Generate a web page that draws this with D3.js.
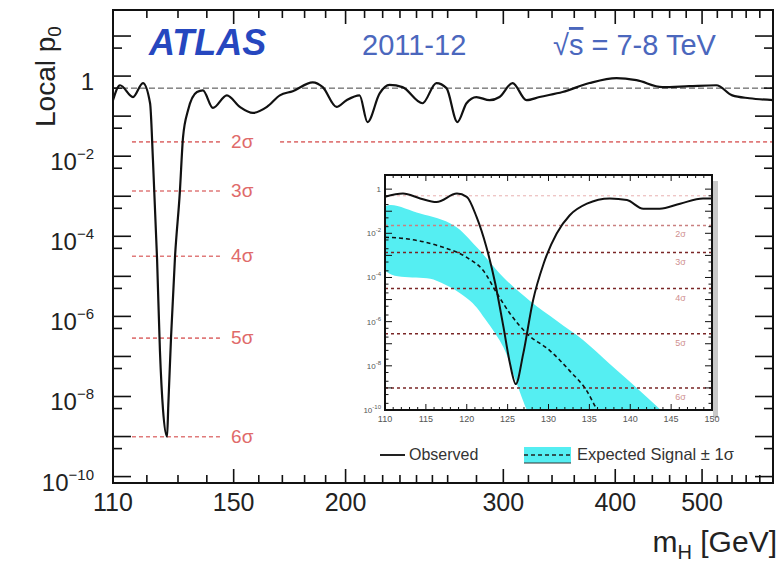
<!DOCTYPE html>
<html>
<head>
<meta charset="utf-8">
<script src="https://cdn.jsdelivr.net/npm/d3@7/dist/d3.min.js"></script>
<style>
html,body{margin:0;padding:0;background:#fff;}
svg{display:block;font-family:"Liberation Sans",Arial,Helvetica,sans-serif;}
</style>
</head>
<body>
<svg id="chart" width="781" height="565"></svg>
<script>
// ---------------- DATA ----------------
// Main plot: observed local p0 vs mH
const obsMass = [110,112,115.8,118.8,121,121.9,123.2,124.1,125.1,126.4,126.8,127.7,129.0,130.6,131.7,133.4,136.5,138.6,142.2,147.4,152.4,157.6,163.4,168.9,174.6,183.8,188.6,195.4,200.5,207.3,211.6,218.3,223.9,231.5,243.7,252.6,259.2,266.6,272.9,279.9,289.6,297.1,307.2,318.4,329.2,349.3,374.4,401.3,422.4,451.5,483.8,518.6,540.4,564.5,600];
const obsP = [0.25,0.59,0.30,0.67,0.21,7.9e-3,2.6e-5,1.4e-7,4.6e-9,1.0e-9,6e-9,3.0e-7,3.0e-5,1.2e-3,0.030,0.14,0.40,0.44,0.16,0.33,0.17,0.12,0.17,0.33,0.42,0.70,0.53,0.17,0.25,0.33,0.071,0.37,0.60,0.53,0.21,0.67,0.50,0.071,0.21,0.30,0.25,0.30,0.67,0.25,0.30,0.40,0.67,0.89,0.79,0.53,0.56,0.59,0.33,0.28,0.25];

// Sigma levels and their one-sided p-values
const sigmaLevels = [2,3,4,5,6];
const sigmaP = [0.02275,1.35e-3,3.167e-5,2.867e-7,9.866e-10];

// Axis ticks
const xTickLabels = [110,150,200,300,400,500];
const xMinorTicks = [110,120,130,140,150,160,170,180,190,200,210,220,230,240,250,260,280,300,320,340,360,380,400,420,440,460,480,500,520,540,560,580,600];
const yLabelExp = [0,-2,-4,-6,-8,-10];
const yDecades = [1,0,-1,-2,-3,-4,-5,-6,-7,-8,-9,-10];

// Inset: zoom 110-150 GeV
const inObsMass = [110,112.2,114.3,116.3,118.8,120.0,121.2,122.4,123.5,124.5,125.3,126.0,126.9,128.1,129.4,131.0,132.6,134.7,137.5,139.6,141.6,143.6,146.1,148.9,150];
const inObsP = [0.45,0.63,0.38,0.26,0.63,0.45,0.055,2.4e-3,5.1e-5,5.5e-7,1.2e-8,1.5e-9,3.4e-8,8.9e-6,4.2e-4,9.8e-3,0.066,0.22,0.38,0.32,0.13,0.13,0.22,0.38,0.38];
const expMass = [110,112.2,116.4,120.0,122.0,123.7,125.3,127.4,130.2,132.6,134.7,135.9,137];
const expP = [6.6e-3,5.9e-3,2.8e-3,8.1e-4,2.1e-4,1.9e-5,2.3e-6,2.8e-7,4.8e-8,5.9e-9,7.2e-10,1.1e-10,3e-11];
const bandHiMass = [110,114.3,118.4,121.2,124.5,127.7,131.0,134.3,137.5,140.8,143.6,145];
const bandHiP = [0.16,0.078,0.023,2.4e-3,1.0e-4,8.9e-6,1.1e-6,1.4e-7,1.2e-8,1.0e-9,1.1e-10,3e-11];
const bandLoMass = [110,116.3,120.4,122.4,124.5,125.7,127.3,128];
const bandLoP = [2.1e-4,7.2e-5,8.9e-6,1.1e-6,6.8e-8,4.2e-9,1.1e-10,3e-11];
const inXTicks = [110,115,120,125,130,135,140,145,150];
const inYLabelExp = [0,-2,-4,-6,-8,-10];

// ---------------- DRAW ----------------
const svg = d3.select("#chart");
const F = {l:113, r:773, t:10, b:483};
const x = d3.scaleLog().domain([110,600]).range([F.l,F.r]);
const y = d3.scaleLog().domain([Math.pow(10,-10.16), Math.pow(10,1.65)]).range([F.b,F.t]);

const defs = svg.append("defs");
defs.append("clipPath").attr("id","mainClip").append("rect")
  .attr("x",F.l).attr("y",F.t).attr("width",F.r-F.l).attr("height",F.b-F.t);

svg.append("rect").attr("width",781).attr("height",565).attr("fill","#fff");

const sigCol = "#e07a7a";
// sigma lines main
sigmaLevels.forEach((s,i)=>{
  const yy = y(sigmaP[i]);
  svg.append("line").attr("x1",x(115.5)).attr("x2",x(144.8)).attr("y1",yy).attr("y2",yy)
    .attr("stroke",sigCol).attr("stroke-width",1.6).attr("stroke-dasharray","4,3");
  if (s===2) {
    svg.append("line").attr("x1",x(169)).attr("x2",F.r).attr("y1",yy).attr("y2",yy)
      .attr("stroke",sigCol).attr("stroke-width",1.6).attr("stroke-dasharray","4,3");
  }
  const t = svg.append("text").attr("x",x(149)).attr("y",yy+6).attr("font-size",19)
    .attr("fill","#e06a6a");
  t.append("tspan").text(s);
  t.append("tspan").text("σ");
});

// p0 = 0.5 line
svg.append("line").attr("x1",F.l).attr("x2",F.r).attr("y1",y(0.5)).attr("y2",y(0.5))
  .attr("stroke","#444").attr("stroke-width",1).attr("stroke-dasharray","6,3");

// observed main
const mainLine = d3.line().x(d=>x(d[0])).y(d=>y(d[1])).curve(d3.curveMonotoneX);
svg.append("path").attr("clip-path","url(#mainClip)")
  .attr("d", mainLine(obsMass.map((m,i)=>[m,obsP[i]])))
  .attr("fill","none").attr("stroke","#111").attr("stroke-width",2.2);

// ---------------- INSET ----------------
const I = {l:385, r:712, t:175, b:410};
const xi = d3.scaleLinear().domain([110,150]).range([I.l,I.r]);
const yi = d3.scaleLog().domain([1e-10, Math.pow(10,0.64)]).range([I.b,I.t]);
defs.append("clipPath").attr("id","inClip").append("rect")
  .attr("x",I.l).attr("y",I.t).attr("width",I.r-I.l).attr("height",I.b-I.t);

svg.append("rect").attr("x",362).attr("y",166).attr("width",362).attr("height",308).attr("fill","#fff");
svg.append("rect").attr("x",I.r+1).attr("y",I.t+6).attr("width",5).attr("height",I.b-I.t+2).attr("fill","#c9c9c9");
svg.append("rect").attr("x",I.l).attr("y",I.t).attr("width",I.r-I.l).attr("height",I.b-I.t).attr("fill","#fff");

const gi = svg.append("g").attr("clip-path","url(#inClip)");
const bandPts = bandHiMass.map((m,i)=>[m,bandHiP[i]])
  .concat(bandLoMass.map((m,i)=>[m,bandLoP[i]]).reverse());
gi.append("path")
  .attr("d", d3.line().x(d=>xi(d[0])).y(d=>yi(d[1])).curve(d3.curveCatmullRomClosed.alpha(0.5))(bandPts))
  .attr("fill","#55eef2").attr("stroke","none");

// inset sigma lines
gi.append("line").attr("x1",I.l).attr("x2",I.r).attr("y1",yi(0.5)).attr("y2",yi(0.5))
  .attr("stroke","#e8b0b0").attr("stroke-width",1).attr("stroke-dasharray","3,3");
sigmaLevels.forEach((s,i)=>{
  const yy = yi(sigmaP[i]);
  gi.append("line").attr("x1",I.l).attr("x2",I.r).attr("y1",yy).attr("y2",yy)
    .attr("stroke", i===0 ? "#c98080" : "#7a2626").attr("stroke-width",1.5).attr("stroke-dasharray","3,3");
  gi.append("text").attr("x",xi(145.5)).attr("y",yy+12).attr("font-size",9).attr("fill","#d09090")
    .text(s+"σ");
});

// expected dashed
const inLine = d3.line().x(d=>xi(d[0])).y(d=>yi(d[1])).curve(d3.curveMonotoneX);
gi.append("path").attr("d", inLine(expMass.map((m,i)=>[m,expP[i]])))
  .attr("fill","none").attr("stroke","#111").attr("stroke-width",1.6).attr("stroke-dasharray","4,3");
// observed inset
gi.append("path").attr("d", inLine(inObsMass.map((m,i)=>[m,inObsP[i]])))
  .attr("fill","none").attr("stroke","#111").attr("stroke-width",2);

// inset frame & ticks
svg.append("rect").attr("x",I.l).attr("y",I.t).attr("width",I.r-I.l).attr("height",I.b-I.t)
  .attr("fill","none").attr("stroke","#111").attr("stroke-width",2);
const tk = svg.append("g").attr("stroke","#111").attr("stroke-width",1);
d3.range(110,151,1).forEach(m=>{
  const L = (m%5===0)?6:3;
  tk.append("line").attr("x1",xi(m)).attr("x2",xi(m)).attr("y1",I.b).attr("y2",I.b-L);
  tk.append("line").attr("x1",xi(m)).attr("x2",xi(m)).attr("y1",I.t).attr("y2",I.t+L);
});
d3.range(-10,1,1).forEach(e=>{
  [[Math.pow(10,e),7],[5*Math.pow(10,e-1),3.5],[2*Math.pow(10,e-1),3.5]].forEach(([v,L])=>{
    if (v < 1e-10) return;
    tk.append("line").attr("x1",I.l).attr("x2",I.l+L).attr("y1",yi(v)).attr("y2",yi(v));
    tk.append("line").attr("x1",I.r).attr("x2",I.r-L).attr("y1",yi(v)).attr("y2",yi(v));
  });
});
inXTicks.forEach(m=>{
  svg.append("text").attr("x",xi(m)).attr("y",I.b+12).attr("text-anchor","middle")
    .attr("font-size",9).attr("fill","#555").text(m);
});
inYLabelExp.forEach(e=>{
  const t = svg.append("text").attr("x",I.l-4).attr("y",yi(Math.pow(10,e))+3).attr("text-anchor","end")
    .attr("font-size",8).attr("fill","#555");
  if (e===0) t.text("1");
  else { t.append("tspan").text("10"); t.append("tspan").attr("dy",-4).attr("font-size",6).text(e); }
});

// legend
svg.append("line").attr("x1",380).attr("x2",405).attr("y1",455).attr("y2",455).attr("stroke","#222").attr("stroke-width",2);
svg.append("text").attr("x",409).attr("y",460).attr("font-size",16).attr("fill","#333").text("Observed");
svg.append("rect").attr("x",524).attr("y",447).attr("width",47).attr("height",16).attr("fill","#55eef2");
svg.append("line").attr("x1",524).attr("x2",571).attr("y1",455).attr("y2",455).attr("stroke","#222").attr("stroke-width",1.6).attr("stroke-dasharray","4,3");
svg.append("line").attr("x1",524).attr("x2",571).attr("y1",463).attr("y2",463).attr("stroke","#333").attr("stroke-width",1.2);
svg.append("text").attr("x",577).attr("y",460).attr("font-size",16.5).attr("fill","#333").text("Expected Signal ± 1σ");

// ---------------- MAIN FRAME, TICKS, LABELS ----------------
svg.append("rect").attr("x",F.l).attr("y",F.t).attr("width",F.r-F.l).attr("height",F.b-F.t)
  .attr("fill","none").attr("stroke","#111").attr("stroke-width",2);
const mt = svg.append("g").attr("stroke","#111").attr("stroke-width",1.6);
xMinorTicks.forEach(m=>{
  const L = xTickLabels.includes(m)?14:8;
  mt.append("line").attr("x1",x(m)).attr("x2",x(m)).attr("y1",F.b).attr("y2",F.b-L);
  mt.append("line").attr("x1",x(m)).attr("x2",x(m)).attr("y1",F.t).attr("y2",F.t+L);
});
yDecades.forEach(e=>{
  const v = Math.pow(10,e);
  [[v,18],[5*v/10,9]].forEach(([vv,L])=>{
    const yy = y(vv);
    if (yy < F.t || yy > F.b) return;
    mt.append("line").attr("x1",F.l).attr("x2",F.l+L).attr("y1",yy).attr("y2",yy);
    mt.append("line").attr("x1",F.r).attr("x2",F.r-L).attr("y1",yy).attr("y2",yy);
  });
});

xTickLabels.forEach(m=>{
  svg.append("text").attr("x",x(m)).attr("y",511).attr("text-anchor","middle")
    .attr("font-size",25).attr("fill","#222").text(m);
});
yLabelExp.forEach(e=>{
  const t = svg.append("text").attr("x",94).attr("y",y(Math.pow(10,e))+14).attr("text-anchor","end")
    .attr("font-size",24).attr("fill","#222");
  if (e===0) t.text("1");
  else { t.append("tspan").text("10"); t.append("tspan").attr("dy",-11).attr("font-size",15).text("−"+(-e)); }
});

// axis titles
const yt = svg.append("text").attr("transform","translate(55,127) rotate(-90)")
  .attr("font-size",28).attr("fill","#222");
yt.append("tspan").text("Local p");
yt.append("tspan").attr("dy",6).attr("font-size",19).text("0");

const xt = svg.append("text").attr("x",777).attr("y",552).attr("text-anchor","end")
  .attr("font-size",30).attr("fill","#222");
xt.append("tspan").text("m");
xt.append("tspan").attr("dy",7).attr("font-size",20).text("H");
xt.append("tspan").attr("dy",-7).text(" [GeV]");

// header texts
svg.append("text").attr("x",149).attr("y",55).attr("font-size",36).attr("font-weight","bold")
  .attr("font-style","italic").attr("fill","#2647bf").text("ATLAS");
svg.append("text").attr("x",362).attr("y",55).attr("font-size",29).attr("fill","#4b67bd").text("2011-12");
const rs = svg.append("text").attr("x",553).attr("y",55).attr("font-size",29).attr("fill","#4b67bd");
rs.append("tspan").text("√");
rs.append("tspan").attr("text-decoration","overline").text("s");
rs.append("tspan").text(" = 7-8 TeV");
</script>
</body>
</html>
